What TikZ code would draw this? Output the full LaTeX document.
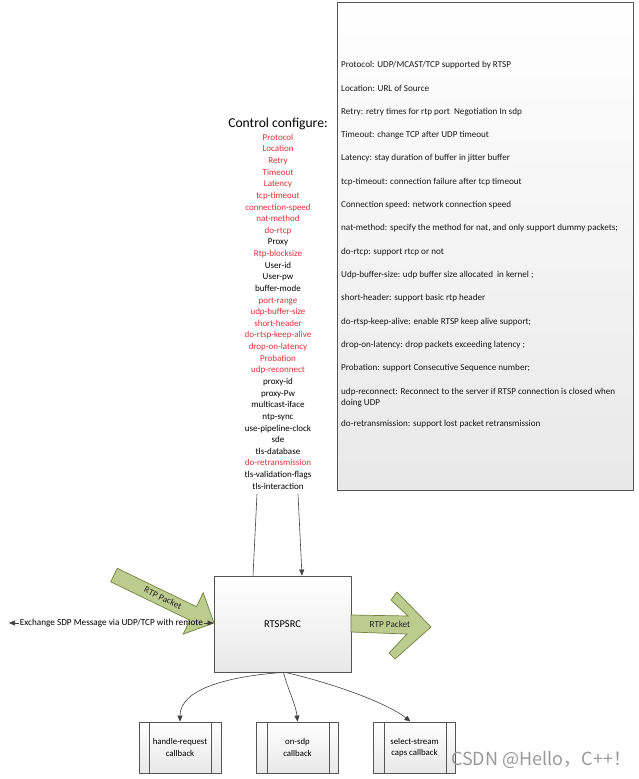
\documentclass[tikz,border=0pt]{standalone}
\usepackage{fontspec}
\setmainfont{Carlito}
\newfontfamily\cjk{Noto Sans CJK SC}
\usetikzlibrary{arrows.meta}
\definecolor{cred}{HTML}{E0303A}
\definecolor{gfill}{HTML}{BCCB8E}
\definecolor{gdraw}{HTML}{6E8440}
\definecolor{edgec}{HTML}{555555}
\begin{document}
\begin{tikzpicture}[x=1pt,y=-1pt,
  boxgrad/.style={draw=edgec, line width=0.9pt, top color=white, bottom color=black!9, inner sep=0},
  desc/.style={anchor=west, font=\fontsize{9.1}{11}\selectfont, inner sep=0, text=black!90, align=left},
  cfgitem/.style={font=\fontsize{9}{11}\selectfont, inner sep=0, text height=6.5pt, text depth=2pt},
  conn/.style={draw=black!75, line width=0.6pt},
  tipend/.style={-{Triangle[length=6pt,width=5pt]}},
  greenarrow/.style={fill=gfill, draw=gdraw, line width=0.7pt, line join=miter},
  arrlabel/.style={font=\fontsize{9.2}{10}\selectfont, inner sep=0, text=black!85},
  cbbox/.style={boxgrad, minimum width=82pt, minimum height=51pt, align=center, font=\fontsize{8.8}{11.5}\selectfont}
]
\useasboundingbox (0,0) rectangle (639,779);

% description box
\node (descbox) [boxgrad, minimum width=296pt, minimum height=488pt] at (485,246) {};
\node[desc] (d1)  at (341,65)  {Protocol: UDP/MCAST/TCP supported by RTSP};
\node[desc] (d2)  at (341,88)  {Location: URL of Source};
\node[desc] (d3)  at (341,112) {Retry: retry times for rtp port\ \ Negotiation In sdp};
\node[desc] (d4)  at (341,135) {Timeout: change TCP after UDP timeout};
\node[desc] (d5)  at (341,158) {Latency: stay duration of buffer in jitter buffer};
\node[desc] (d6)  at (341,182) {tcp-timeout: connection failure after tcp timeout};
\node[desc] (d7)  at (341,205) {Connection speed: network connection speed};
\node[desc] (d8)  at (341,228) {nat-method: specify the method for nat, and only support dummy packets;};
\node[desc] (d9)  at (341,252) {do-rtcp: support rtcp or not};
\node[desc] (d10) at (341,275) {Udp-buffer-size: udp buffer size allocated\ \ in kernel ;};
\node[desc] (d11) at (341,298) {short-header: support basic rtp header};
\node[desc] (d12) at (341,322) {do-rtsp-keep-alive: enable RTSP keep alive support;};
\node[desc] (d13) at (341,345) {drop-on-latency: drop packets exceeding latency ;};
\node[desc] (d14) at (341,368) {Probation: support Consecutive Sequence number;};
\node[desc] (d15) at (341,397.5) {udp-reconnect: Reconnect to the server if RTSP connection is closed when\\doing UDP};
\node[desc] (d16) at (341,424) {do-retransmission: support lost packet retransmission};

% control configure list
\node (title) [font=\fontsize{13.6}{15}\selectfont, inner sep=0] at (278,124) {Control configure:};
\foreach \t/\c [count=\i from 0] in {
  Protocol/cred, Location/cred, Retry/cred, Timeout/cred, Latency/cred,
  tcp-timeout/cred, connection-speed/cred, nat-method/cred, do-rtcp/cred,
  Proxy/black, Rtp-blocksize/cred, User-id/black, User-pw/black, buffer-mode/black,
  port-range/cred, udp-buffer-size/cred, short-header/cred, do-rtsp-keep-alive/cred,
  drop-on-latency/cred, Probation/cred, udp-reconnect/cred,
  proxy-id/black, proxy-Pw/black, multicast-iface/black, ntp-sync/black,
  use-pipeline-clock/black, sde/black, tls-database/black, do-retransmission/cred,
  tls-validation-flags/black, tls-interaction/black}
  \node[cfgitem, text=\c] (c\i) at (278,{138+11.63*\i}) {\t};

% main box
\node (src) [boxgrad, minimum width=137pt, minimum height=96pt, font=\fontsize{10.5}{12}\selectfont] at (282.5,624) {RTSPSRC};

% lines from list to box
\coordinate (la) at (257,494);
\coordinate (ra) at (298,494);
\draw[conn] (la) -- ([xshift=-29.5pt]src.north);
\draw[conn,tipend] (ra) -- ([xshift=19.5pt]src.north);

% incoming RTP packet arrow
\draw[greenarrow] (110.7,581.8) -- (117.3,568.3) -- (196.5,606.7) -- (203.2,592.7) -- (214,623) -- (183.2,634.1) -- (189.9,620.2) -- cycle;
\node[arrlabel, rotate=-26] (rtpin) at (163,598) {RTP Packet};

% exchange SDP
\node (ex) [inner sep=0.6pt, font=\fontsize{9.2}{10}\selectfont] at (111.5,623) {Exchange SDP Message via UDP/TCP with remote};
\coordinate (exL) at (9,623);
\draw[conn,tipend] (ex.west) -- (exL);
\draw[conn,tipend] (ex.east) -- (src.west |- ex.east);

% outgoing RTP packet arrow
\draw[greenarrow] (351,615) -- (408,616) -- (391,600) -- (397,592) -- (431,627) -- (395,659) -- (389,653) -- (407,634) -- (351,632) -- cycle;
\node[arrlabel] (rtpout) at (390,624) {RTP Packet};

% callbacks
\node (cb1) [cbbox] at (180,747.5) {handle-request\\callback};
\node (cb2) [cbbox] at (297.5,747.5) {on-sdp\\callback};
\node (cb3) [cbbox] at (414.5,747.5) {select-stream\\caps callback};
\foreach \n in {cb1,cb2,cb3} {
  \draw[draw=edgec, line width=0.8pt] ([xshift=11pt]\n.north west) -- ([xshift=11pt]\n.south west);
  \draw[draw=edgec, line width=0.8pt] ([xshift=-10pt]\n.north east) -- ([xshift=-10pt]\n.south east);
}
\draw[conn,tipend] (src.south) .. controls (232,676) and (180,688) .. (cb1.north);
\draw[conn,tipend] ([xshift=1pt]src.south) .. controls (288,690) and (296,705) .. (cb2.north);
\draw[conn,tipend] ([xshift=3pt]src.south) .. controls (340,685) and (390,705) .. ([xshift=-4pt]cb3.north);

% watermark
\node (wm) [anchor=west, inner sep=0, text=black!40, font=\cjk\fontsize{18}{20}\selectfont] at (451,760) {CSDN @Hello，C++！};
\end{tikzpicture}
\end{document}
